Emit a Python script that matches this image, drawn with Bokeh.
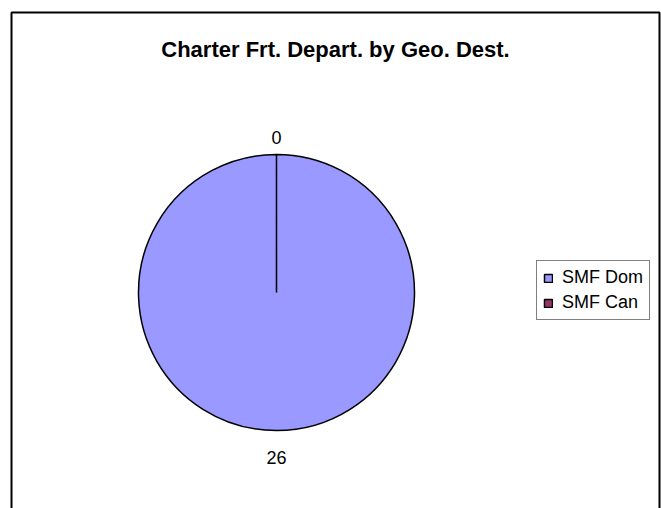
import math
from bokeh.plotting import figure
from bokeh.models import Range1d, Label, Legend, LegendItem, ColumnDataSource
from bokeh.core.properties import value
from bokeh.embed import file_html
from bokeh.resources import INLINE

title_text = "Charter Frt. Depart. by Geo. Dest."
categories = ["SMF Dom", "SMF Can"]
values = [26, 0]
colors = ["#9999FF", "#993366"]

W, H = 661, 508
p = figure(width=W, height=H, output_backend="svg", toolbar_location=None,
           x_range=Range1d(0, W), y_range=Range1d(0, H), min_border=0)
p.axis.visible = False
p.grid.visible = False
p.outline_line_color = None
p.background_fill_color = "white"
p.border_fill_color = "white"

# chart area border (bottom edge runs past the window)
p.quad(left=11, right=659, top=H - 12, bottom=-20, fill_color=None,
       line_color="black", line_width=2)

cx, cy, r = 276, H - 292, 138
total = sum(values)
starts, ends, mids, radii = [], [], [], []
cum = 0
FULL = 2 * math.pi
for v in values:
    a0 = math.pi / 2 - FULL * cum / total
    cum += v
    a1 = math.pi / 2 - FULL * cum / total
    mids.append((a0 + a1) / 2)
    if a0 - a1 >= FULL - 1e-9:
        a1 = a0 - (FULL - 1e-4)  # keep a full slice from collapsing to nothing
    starts.append(a0)
    ends.append(a1)
    radii.append(r if v > 0 else 0)

src = ColumnDataSource(dict(cat=categories, val=values, color=colors,
                            start=starts, end=ends, rad=radii))
w = p.wedge(x=cx, y=cy, radius="rad", start_angle="start", end_angle="end",
            direction="clock", fill_color="color", line_color="black",
            line_width=1.5, source=src)

# data labels outside the pie, at the middle angle of each slice
lx, ly = [], []
for m in mids:
    off = 17.5 if math.sin(m) > 0 else 26.5
    lx.append(cx + (r + off) * math.cos(m))
    ly.append(cy + (r + off) * math.sin(m))
p.text(x=lx, y=ly, text=[str(v) for v in values], text_align="center",
       text_baseline="middle", text_font_size="18px",
       text_font=value("Liberation Sans"), text_color="black")

p.add_layout(Label(x=(11 + 659) / 2, y=H - 49, text=title_text,
                   text_align="center", text_baseline="middle",
                   text_font_size="22px", text_font_style="bold",
                   text_font="Liberation Sans", text_color="black"))

items = [LegendItem(label=c, renderers=[w], index=i) for i, c in enumerate(categories)]
legend = Legend(items=items, location=(536, H - 320), orientation="vertical",
                glyph_width=10, glyph_height=10, label_height=20, spacing=4,
                padding=6, label_standoff=9, margin=0,
                label_text_font="Liberation Sans", label_text_font_size="18px",
                label_text_color="black",
                border_line_color="black", border_line_width=1,
                background_fill_color="white", background_fill_alpha=1)
p.add_layout(legend, "center")

open("out.html", "w").write(file_html(p, INLINE))
